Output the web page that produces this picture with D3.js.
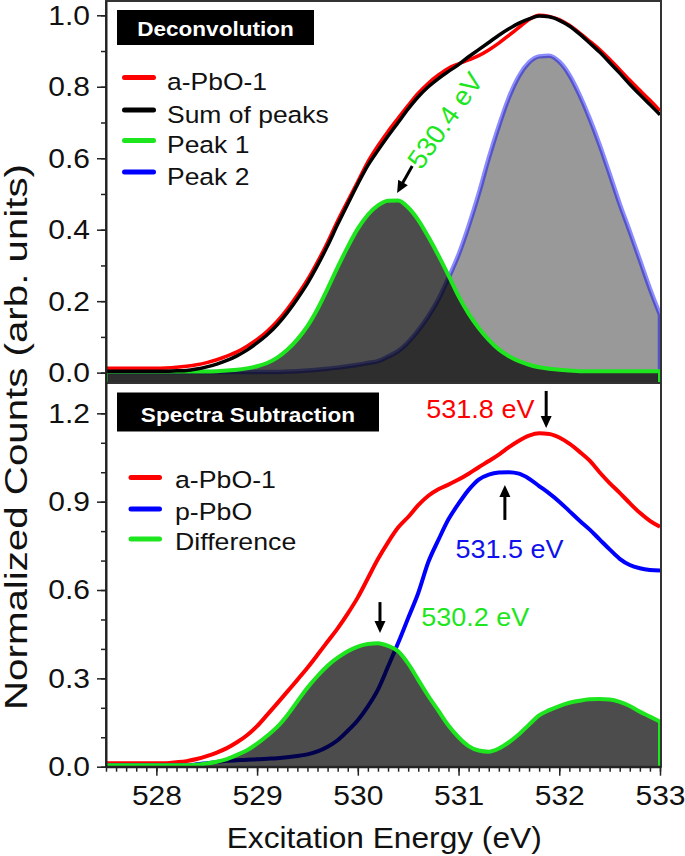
<!DOCTYPE html>
<html><head><meta charset="utf-8">
<script src="https://cdn.jsdelivr.net/npm/d3@7"></script>
<style>html,body{margin:0;padding:0;background:#fff;} svg{display:block;font-family:"Liberation Sans",Arial,sans-serif;}</style>
</head><body><svg id="chart" width="685" height="856"></svg>
<script>
// ---------------- DATA ----------------
const energy = [527.5,527.6,527.7,527.8,527.9,528.0,528.1,528.2,528.3,528.4,
528.5,528.6,528.7,528.8,528.9,529.0,529.1,529.2,529.3,529.4,
529.5,529.6,529.7,529.8,529.9,530.0,530.1,530.2,530.3,530.4,
530.5,530.6,530.7,530.8,530.9,531.0,531.1,531.2,531.3,531.4,
531.5,531.6,531.7,531.8,531.9,532.0,532.1,532.2,532.3,532.4,
532.5,532.6,532.7,532.8,532.9,533.0];

// Top panel: Deconvolution
const topRed = [0.012,0.012,0.012,0.012,0.012,0.012,0.013,0.015,0.018,0.022,
0.028,0.036,0.046,0.058,0.074,0.093,0.116,0.144,0.178,0.217,
0.26,0.31,0.365,0.425,0.48,0.535,0.59,0.635,0.675,0.712,
0.748,0.782,0.81,0.833,0.852,0.864,0.875,0.887,0.903,0.922,
0.944,0.966,0.988,1.0,0.997,0.988,0.972,0.951,0.928,0.904,
0.877,0.848,0.818,0.79,0.762,0.733];
const topSum = [0.004,0.004,0.004,0.004,0.004,0.004,0.004,0.005,0.006,0.01,
0.016,0.024,0.034,0.047,0.063,0.083,0.106,0.134,0.168,0.207,
0.25,0.3,0.355,0.415,0.472,0.528,0.58,0.622,0.662,0.70,
0.738,0.772,0.80,0.823,0.843,0.862,0.884,0.904,0.924,0.944,
0.962,0.978,0.99,0.998,0.996,0.986,0.97,0.948,0.923,0.897,
0.868,0.838,0.807,0.778,0.75,0.722];
const topPeak1 = [0.003,0.003,0.003,0.003,0.003,0.003,0.003,0.003,0.003,0.003,
0.003,0.004,0.006,0.008,0.012,0.018,0.027,0.042,0.064,0.093,
0.13,0.178,0.235,0.295,0.352,0.403,0.442,0.468,0.481,0.482,
0.462,0.427,0.38,0.328,0.272,0.214,0.165,0.125,0.092,0.065,
0.046,0.032,0.022,0.015,0.011,0.008,0.006,0.004,0.004,0.004,
0.004,0.004,0.004,0.004,0.004,0.004];
const topPeak2 = [0.002,0.002,0.002,0.002,0.002,0.002,0.002,0.002,0.002,0.002,
0.002,0.002,0.002,0.002,0.002,0.002,0.002,0.002,0.003,0.004,
0.006,0.008,0.011,0.014,0.018,0.022,0.027,0.032,0.045,0.06,
0.085,0.118,0.158,0.205,0.265,0.33,0.41,0.5,0.6,0.69,
0.77,0.83,0.868,0.885,0.887,0.87,0.833,0.778,0.712,0.638,
0.556,0.472,0.395,0.315,0.235,0.162];

// Bottom panel: Spectra Subtraction
const botRed = [0.012,0.012,0.012,0.012,0.012,0.012,0.012,0.015,0.019,0.026,
0.036,0.048,0.063,0.083,0.107,0.138,0.176,0.215,0.255,0.295,
0.336,0.38,0.425,0.47,0.52,0.575,0.64,0.705,0.762,0.812,
0.848,0.888,0.92,0.942,0.958,0.975,0.995,1.017,1.038,1.06,
1.085,1.107,1.124,1.132,1.13,1.118,1.097,1.07,1.04,1.0,
0.963,0.93,0.895,0.862,0.835,0.815];
const botBlue = [0.005,0.005,0.005,0.005,0.005,0.005,0.005,0.005,0.005,0.008,
0.012,0.016,0.02,0.022,0.024,0.025,0.027,0.029,0.032,0.036,
0.042,0.052,0.068,0.09,0.122,0.158,0.205,0.262,0.34,0.42,
0.505,0.59,0.695,0.77,0.84,0.893,0.94,0.975,0.992,0.999,
1.0,0.995,0.978,0.953,0.928,0.9,0.868,0.836,0.806,0.772,
0.738,0.706,0.685,0.674,0.668,0.666];
const botDiff = [0.005,0.005,0.005,0.005,0.005,0.005,0.005,0.005,0.005,0.007,
0.011,0.017,0.026,0.04,0.056,0.078,0.105,0.135,0.175,0.222,
0.268,0.308,0.343,0.37,0.392,0.408,0.417,0.419,0.41,0.392,
0.35,0.295,0.24,0.19,0.14,0.1,0.07,0.055,0.051,0.062,
0.083,0.11,0.143,0.174,0.192,0.206,0.217,0.224,0.229,0.23,
0.228,0.22,0.206,0.187,0.17,0.153];

const xTicks = [528,529,530,531,532,533];
const yTopTicks = [0.0,0.2,0.4,0.6,0.8,1.0];
const yBotTicks = [0.0,0.3,0.6,0.9,1.2];
const topLegendLabels = ["a-PbO-1","Sum of peaks","Peak 1","Peak 2"];
const botLegendLabels = ["a-PbO-1","p-PbO","Difference"];
const topTitle = "Deconvolution";
const botTitle = "Spectra Subtraction";
const xTitle = "Excitation Energy (eV)";
const yTitle = "Normalized Counts (arb. units)";
// annotations (data coordinates)
const topAnn = {label:"530.4 eV", tx:530.63, ty:0.565, a1:[530.54,0.578], a2:[530.39,0.503]};
const botAnns = [
  {label:"531.8 eV", color:"red",   tx:530.68, ty:1.184, a1:[531.87,1.276], a2:[531.87,1.150]},
  {label:"531.5 eV", color:"blue",  tx:530.97, ty:0.709, a1:[531.46,0.838], a2:[531.46,0.957]},
  {label:"530.2 eV", color:"green", tx:530.63, ty:0.477, a1:[530.22,0.559], a2:[530.22,0.454]}
];

// ---------------- STYLE ----------------
const C = {red:"#ff0000", black:"#000000", green:"#1ee61e", blue:"#0000ff"};
const svg = d3.select("#chart");
const X0 = 106, X1 = 660;
const x = d3.scaleLinear().domain([527.5,533]).range([X0,X1]);
const yT = d3.scaleLinear().domain([-0.029,1.04]).range([383,1]);
const yB = d3.scaleLinear().domain([0,1.303]).range([766.7,383]);

function stretch(sel,k){ sel.each(function(){ const L=this.getComputedTextLength(); this.setAttribute("textLength",L*k); this.setAttribute("lengthAdjust","spacingAndGlyphs"); }); }

const defs = svg.append("defs");
defs.append("clipPath").attr("id","clipT").append("rect").attr("x",X0).attr("y",1).attr("width",X1-X0).attr("height",382);
defs.append("clipPath").attr("id","clipB").append("rect").attr("x",X0).attr("y",383).attr("width",X1-X0).attr("height",383.7);

const lineGen = (ys)=> d3.line().x((d,i)=>x(energy[i])).y(d=>ys(d)).curve(d3.curveMonotoneX);
const areaGen = (ys,base)=> d3.area().x((d,i)=>x(energy[i])).y0(base).y1(d=>ys(d)).curve(d3.curveMonotoneX);

// ---- top panel ----
const gT = svg.append("g").attr("clip-path","url(#clipT)");
gT.append("path").datum(topPeak2).attr("d",areaGen(yT,390)).attr("fill","#999999")
  .attr("stroke","rgba(0,0,255,0.45)").attr("stroke-width",4.5);
gT.append("path").datum(topPeak1).attr("d",areaGen(yT,390)).attr("fill","#000").attr("fill-opacity",0.7);
gT.append("path").datum(topPeak1).attr("d",areaGen(yT,390)).attr("fill","none")
  .attr("stroke",C.green).attr("stroke-width",4);
gT.append("path").datum(topRed).attr("d",lineGen(yT)).attr("fill","none").attr("stroke",C.red).attr("stroke-width",3.5);
gT.append("path").datum(topSum).attr("d",lineGen(yT)).attr("fill","none").attr("stroke",C.black).attr("stroke-width",3.5);

// ---- bottom panel ----
const gB = svg.append("g").attr("clip-path","url(#clipB)");
gB.append("path").datum(botRed).attr("d",lineGen(yB)).attr("fill","none").attr("stroke",C.red).attr("stroke-width",4);
gB.append("path").datum(botBlue).attr("d",lineGen(yB)).attr("fill","none").attr("stroke",C.blue).attr("stroke-width",4);
gB.append("path").datum(botDiff).attr("d",areaGen(yB,772)).attr("fill","#000").attr("fill-opacity",0.7);
gB.append("path").datum(botDiff).attr("d",areaGen(yB,772)).attr("fill","none").attr("stroke",C.green).attr("stroke-width",4);

// ---- frames ----
svg.append("rect").attr("x",X0).attr("y",1).attr("width",X1-X0+1).attr("height",382)
  .attr("fill","none").attr("stroke","#333").attr("stroke-width",2);
svg.append("rect").attr("x",X0).attr("y",383).attr("width",X1-X0+1).attr("height",383.7)
  .attr("fill","none").attr("stroke","#333").attr("stroke-width",2);

// ---- axes ----
function styleAxis(g){ g.selectAll("path,line").attr("stroke","#222"); g.select(".domain").attr("stroke-width",2); g.selectAll(".tick line").attr("stroke-width",1.5); }
const fmt = d3.format(".1f");
const axT = svg.append("g").attr("transform",`translate(${X0},0)`)
  .call(d3.axisLeft(yT).tickValues(yTopTicks).tickFormat(fmt).tickSize(9).tickPadding(7).tickSizeOuter(0));
svg.append("g").attr("transform",`translate(${X0},0)`)
  .call(d3.axisLeft(yT).tickValues(d3.range(0,1.001,0.1)).tickFormat("").tickSize(5).tickSizeOuter(0))
  .call(g=>g.select(".domain").remove()).call(styleAxis);
const axB = svg.append("g").attr("transform",`translate(${X0},0)`)
  .call(d3.axisLeft(yB).tickValues(yBotTicks).tickFormat(fmt).tickSize(9).tickPadding(7).tickSizeOuter(0));
svg.append("g").attr("transform",`translate(${X0},0)`)
  .call(d3.axisLeft(yB).tickValues(d3.range(0,1.201,0.1)).tickFormat("").tickSize(5).tickSizeOuter(0))
  .call(g=>g.select(".domain").remove()).call(styleAxis);
const axX = svg.append("g").attr("transform","translate(0,766.7)")
  .call(d3.axisBottom(x).tickValues(xTicks).tickFormat(d3.format("d")).tickSize(9).tickPadding(9).tickSizeOuter(0));
svg.append("g").attr("transform","translate(0,766.7)")
  .call(d3.axisBottom(x).tickValues(energy).tickFormat("").tickSize(5).tickSizeOuter(0))
  .call(g=>g.select(".domain").remove()).call(styleAxis);
[axT,axB,axX].forEach(a=>{ a.call(styleAxis); a.selectAll("text").attr("font-size",28).attr("font-family","Liberation Sans, Arial, sans-serif").attr("fill","#111"); stretch(a.selectAll("text"),1.07); });

// axis titles
const xt = svg.append("text").attr("x",226.7).attr("y",848).attr("font-size",29).attr("fill","#111").text(xTitle);
xt.attr("textLength",315).attr("lengthAdjust","spacingAndGlyphs");
svg.append("text").attr("transform","rotate(-90)").attr("x",-437).attr("y",27).attr("text-anchor","middle")
  .attr("font-size",31).attr("fill","#111").attr("textLength",546).attr("lengthAdjust","spacingAndGlyphs").text(yTitle);

// ---- legends ----
function titleBox(x0,y0,w,h,label,base){
  svg.append("rect").attr("x",x0).attr("y",y0).attr("width",w).attr("height",h).attr("fill","#000");
  const t = svg.append("text").attr("x",x0+w/2).attr("y",base).attr("text-anchor","middle")
    .attr("font-size",20.5).attr("font-weight","bold").attr("fill","#fff").text(label);
  stretch(t,1.1);
}
titleBox(117,10,197,35,topTitle,36);
titleBox(117,392.5,262,39,botTitle,422);

const topLegColors=[C.red,C.black,C.green,C.blue];
const topBase=[90,122.5,153,184.5];
topLegendLabels.forEach((l,i)=>{
  svg.append("line").attr("x1",124.5).attr("x2",153.5).attr("y1",topBase[i]-12.5).attr("y2",topBase[i]-12.5)
    .attr("stroke",topLegColors[i]).attr("stroke-width",5).attr("stroke-linecap","round");
  const t=svg.append("text").attr("x",167).attr("y",topBase[i]).attr("font-size",24.5).attr("fill","#111").text(l);
  stretch(t,1.08);
});
const botLegColors=[C.red,C.blue,C.green];
const botBase=[488,519.5,549.5];
botLegendLabels.forEach((l,i)=>{
  svg.append("line").attr("x1",131).attr("x2",159.5).attr("y1",botBase[i]-10.5).attr("y2",botBase[i]-10.5)
    .attr("stroke",botLegColors[i]).attr("stroke-width",5).attr("stroke-linecap","round");
  const t=svg.append("text").attr("x",175).attr("y",botBase[i]).attr("font-size",24.5).attr("fill","#111").text(l);
  stretch(t,1.09);
});

// ---- annotations ----
function arrow(x1,y1,x2,y2){
  const dx=x2-x1, dy=y2-y1, L=Math.hypot(dx,dy), ux=dx/L, uy=dy/L, hl=12, hw=5.5;
  const bx=x2-ux*hl, by=y2-uy*hl;
  svg.append("line").attr("x1",x1).attr("y1",y1).attr("x2",bx+ux*1).attr("y2",by+uy*1)
    .attr("stroke","#000").attr("stroke-width",3);
  svg.append("path").attr("d",`M${x2},${y2}L${bx-uy*hw},${by+ux*hw}L${bx+uy*hw},${by-ux*hw}Z`).attr("fill","#000");
}
const annColor={red:C.red,blue:"#1010ee",green:C.green};
botAnns.forEach(a=>{
  arrow(x(a.a1[0]),yB(a.a1[1]),x(a.a2[0]),yB(a.a2[1]));
  const t=svg.append("text").attr("x",x(a.tx)).attr("y",yB(a.ty)).attr("font-size",25).attr("fill",annColor[a.color]).text(a.label);
  stretch(t,1.08);
});
arrow(x(topAnn.a1[0]),yT(topAnn.a1[1]),x(topAnn.a2[0]),yT(topAnn.a2[1]));
const tt=svg.append("text").attr("transform",`translate(${x(topAnn.tx)},${yT(topAnn.ty)}) rotate(-55)`)
  .attr("font-size",27).attr("fill",C.green).attr("textLength",110).attr("lengthAdjust","spacingAndGlyphs").text(topAnn.label);
</script></body></html>
